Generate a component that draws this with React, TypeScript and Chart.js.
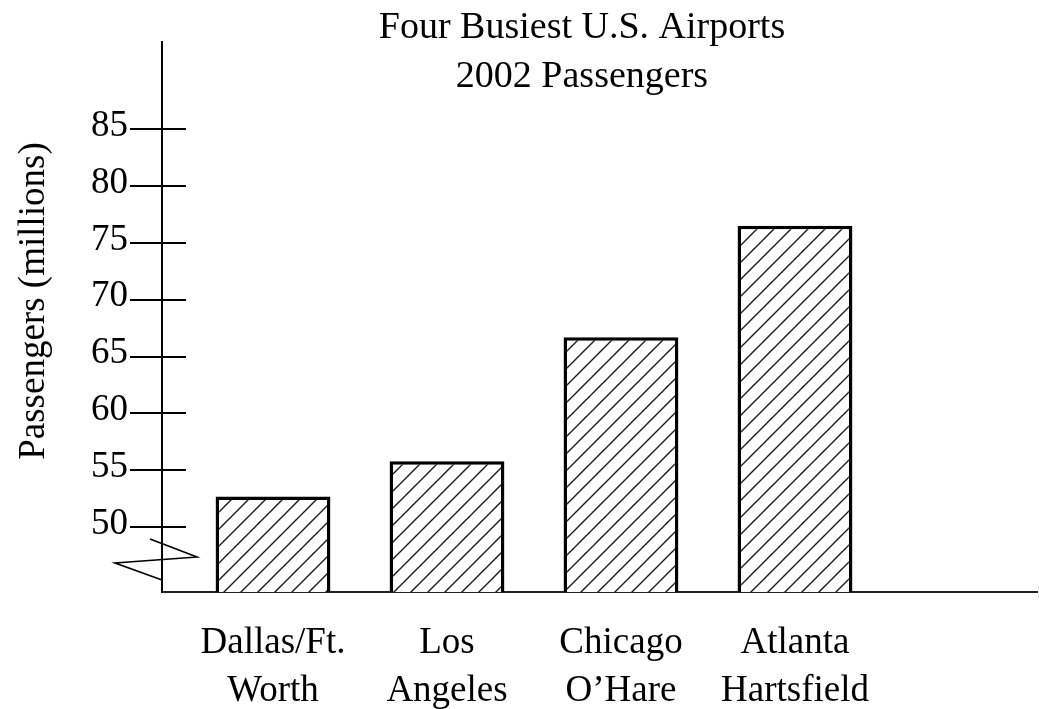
import React, { useEffect, useRef } from "react";
import { Chart, registerables } from "chart.js";

Chart.register(...registerables);

const titleLines = ["Four Busiest U.S. Airports", "2002 Passengers"];
const yAxisTitle = "Passengers (millions)";
const airports: string[][] = [
  ["Dallas/Ft.", "Worth"],
  ["Los", "Angeles"],
  ["Chicago", "O\u2019Hare"],
  ["Atlanta", "Hartsfield"],
];
const positions = [1, 2, 3, 4];
const passengers = [52.7, 55.8, 66.7, 76.5];
const yTicks = [50, 55, 60, 65, 70, 75, 80, 85];

const FONT = "'Liberation Serif', 'Times New Roman', serif";

function makeHatch(): CanvasPattern | string {
  const s = 17;
  const c = document.createElement("canvas");
  c.width = s;
  c.height = s;
  const g = c.getContext("2d");
  if (!g) return "#fff";
  g.fillStyle = "#fff";
  g.fillRect(0, 0, s, s);
  g.strokeStyle = "#1a1a1a";
  g.lineWidth = 1.4;
  g.beginPath();
  g.moveTo(-2, s + 2);
  g.lineTo(s + 2, -2);
  g.moveTo(-2, 2);
  g.lineTo(2, -2);
  g.moveTo(s - 2, s + 2);
  g.lineTo(s + 2, s - 2);
  g.stroke();
  const p = g.createPattern(c, "repeat");
  return p || "#fff";
}

const decorPlugin = {
  id: "decor",
  afterDraw(chart: any) {
    const { ctx, chartArea, scales } = chart;
    const y = scales.y;
    const left = chartArea.left;
    const bottom = chartArea.bottom;
    ctx.save();
    // tick marks crossing the axis
    ctx.strokeStyle = "#000";
    ctx.lineWidth = 2;
    y.ticks.forEach((t: any) => {
      const py = Math.round(y.getPixelForValue(t.value));
      ctx.beginPath();
      ctx.moveTo(left - 32, py);
      ctx.lineTo(left + 24, py);
      ctx.stroke();
    });
    // axis break zigzag
    ctx.lineWidth = 1.6;
    ctx.beginPath();
    ctx.moveTo(left - 12, bottom - 53);
    ctx.lineTo(left + 35, bottom - 35);
    ctx.lineTo(left - 47, bottom - 29);
    ctx.lineTo(left, bottom - 12);
    ctx.stroke();
    // title
    ctx.fillStyle = "#000";
    ctx.font = `38px ${FONT}`;
    ctx.textAlign = "center";
    ctx.textBaseline = "alphabetic";
    ctx.fillText(titleLines[0], 582, 38);
    ctx.fillText(titleLines[1], 582, 87);
    // y axis title
    ctx.font = `37px ${FONT}`;
    ctx.translate(44, 301);
    ctx.rotate(-Math.PI / 2);
    ctx.fillText(yAxisTitle, 0, 0);
    ctx.restore();
  },
};

export default function App() {
  const ref = useRef<HTMLCanvasElement>(null);
  useEffect(() => {
    document.body.style.margin = "0";
    const canvas = ref.current;
    if (!canvas) return;
    const hatch = makeHatch();
    const chart = new Chart(canvas, {
      type: "bar",
      data: {
        datasets: [
          {
            data: positions.map((p, i) => ({ x: p, y: passengers[i] })),
            backgroundColor: hatch as any,
            borderColor: "#000",
            borderWidth: 3.5,
            borderSkipped: false,
            categoryPercentage: 1,
            barPercentage: 0.66,
          },
        ],
      },
      options: {
        responsive: false,
        animation: false,
        events: [],
        layout: { padding: { top: 42, right: 2, left: 0, bottom: 0 } },
        plugins: {
          legend: { display: false },
          tooltip: { enabled: false },
          title: { display: false },
        },
        scales: {
          x: {
            type: "linear",
            offset: false,
            min: 0.362,
            max: 5.391,
            grid: { display: false, drawTicks: false },
            border: { display: true, color: "#222", width: 2 },
            afterFit: (s: any) => {
              s.height = 117;
              s.paddingLeft = 0;
              s.paddingRight = 0;
            },
            afterBuildTicks: (s: any) => {
              s.ticks = positions.map((v) => ({ value: v }));
            },
            ticks: {
              color: "#000",
              padding: 27,
              autoSkip: false,
              maxRotation: 0,
              font: { family: FONT, size: 37, lineHeight: 1.3 },
              callback: (v: any) => {
                const i = positions.indexOf(Number(v));
                return i >= 0 ? airports[i] : "";
              },
            },
          },
          y: {
            type: "linear",
            min: 44.31,
            max: 92.65,
            grid: { display: false, drawTicks: false },
            border: { display: true, color: "#000", width: 2 },
            afterFit: (s: any) => {
              s.width = 162;
              s.paddingTop = 0;
              s.paddingBottom = 0;
            },
            afterBuildTicks: (s: any) => {
              s.ticks = yTicks.map((v) => ({ value: v }));
            },
            ticks: {
              color: "#000",
              padding: 34,
              labelOffset: -3,
              font: { family: FONT, size: 37 },
            },
          },
        },
      },
      plugins: [decorPlugin],
    });
    return () => chart.destroy();
  }, []);
  return <canvas ref={ref} width={1039} height={709} style={{ display: "block" }} />;
}
